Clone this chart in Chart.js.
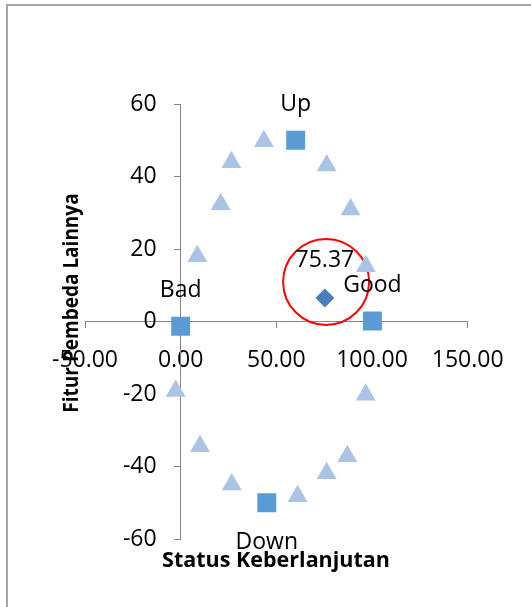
<!DOCTYPE html>
<html>
<head>
<meta charset="utf-8">
<script src="https://cdn.jsdelivr.net/npm/chart.js@4/dist/chart.umd.min.js"></script>
<style>
  html, body { margin: 0; padding: 0; background: #fff; overflow: hidden; }
  #frame { position: absolute; left: 6px; top: 4px; width: 700px; height: 800px; border: 2px solid #a6a6a6; }
  #wrap { position: absolute; left: 0; top: 0; width: 531px; height: 607px; }
</style>
</head>
<body>
<div id="frame"></div>
<div id="wrap"><canvas id="chart" width="531" height="607"></canvas></div>
<script>
// reference points (squares)
const refLabels = ['Up', 'Bad', 'Good', 'Down']
const refX = [60.1, 0, 100.2, 45]
const refY = [50.1, -1.2, 0.2, -49.9]

// anchor points (triangles)
const anchorX = [43.5, 26.5, 20.9, 8.7, 76.3, 88.8, 96.8, -2.6, 10.1, 26.7, 61.1, 76.3, 87.1, 96.7]
const anchorY = [49.8, 44.0, 32.4, 18.1, 43.1, 31.0, 15.3, -19.1, -34.3, -44.9, -48.1, -41.8, -37.1, -20.1]

// the result point
const statusX = 75.37
const statusY = 6.6
const statusLabel = '75.37'

// highlight circle around the result
const circleX = 76
const circleY = 11

const xTicks = [-50, 0, 50, 100, 150]
const yTicks = [-60, -40, -20, 0, 20, 40, 60]

const FONT = "'Open Sans', 'Noto Sans', sans-serif"
const TEXT_SIZE = 23

const toPoints = (xs, ys) => xs.map((x, i) => ({ x: x, y: ys[i] }))

const labelPlugin = {
  id: 'labelPlugin',
  afterDatasetsDraw(chart) {
    const ctx = chart.ctx
    const sx = chart.scales.x
    const sy = chart.scales.y
    ctx.save()
    ctx.fillStyle = '#000'
    ctx.textAlign = 'center'
    ctx.textBaseline = 'middle'
    ctx.font = TEXT_SIZE + 'px ' + FONT
    refLabels.forEach((lab, i) => {
      const px = sx.getPixelForValue(refX[i])
      const py = sy.getPixelForValue(refY[i])
      const off = lab === 'Down' ? 40 : -36
      ctx.fillText(lab, px, py + off)
    })
    ctx.fillText(statusLabel, sx.getPixelForValue(statusX), sy.getPixelForValue(statusY) - 37)

    // axis titles
    ctx.font = 'bold 21.5px ' + FONT
    ctx.fillText('Status Keberlanjutan', 276, 561)
    ctx.font = 'bold 19px ' + FONT
    ctx.translate(72, 303)
    ctx.rotate(-Math.PI / 2)
    ctx.scale(1, 1.12)
    ctx.fillText('Fitur Pembeda Lainnya', 0, 0)
    ctx.restore()
  }
}

// axes sit inside the chart area, so they should not take layout space
const noSize = (scale) => {
  if (scale.isHorizontal()) scale.height = 0
  else scale.width = 0
}

// a y axis placed at x=0 draws its labels right on the line; push them left
const shiftYLabels = (scale) => {
  if (scale._shifted) return
  const orig = scale._computeLabelItems.bind(scale)
  scale._computeLabelItems = (area) => orig(area).map(item => {
    item.options.translation[0] -= 24
    return item
  })
  scale._shifted = true
}

new Chart(document.getElementById('chart'), {
  type: 'scatter',
  data: {
    datasets: [
      {
        label: 'anchor',
        data: toPoints(anchorX, anchorY),
        pointStyle: 'triangle',
        pointRadius: 11.5,
        backgroundColor: '#abc4e6',
        borderWidth: 0
      },
      {
        label: 'reference',
        data: toPoints(refX, refY),
        pointStyle: 'rect',
        pointRadius: 13.4,
        backgroundColor: '#5b9bd5',
        borderWidth: 0
      },
      {
        label: 'status',
        data: [{ x: statusX, y: statusY }],
        pointStyle: 'rectRot',
        pointRadius: 9.5,
        backgroundColor: '#4a7ebb',
        borderWidth: 0
      },
      {
        label: 'highlight',
        data: [{ x: circleX, y: circleY }],
        pointStyle: 'circle',
        pointRadius: 43,
        backgroundColor: 'rgba(0,0,0,0)',
        borderColor: '#ff0000',
        borderWidth: 2
      }
    ]
  },
  options: {
    responsive: false,
    animation: false,
    layout: { padding: { left: 85, right: 63.3, top: 104.3, bottom: 67.7 } },
    plugins: {
      legend: { display: false },
      tooltip: { enabled: false }
    },
    scales: {
      x: {
        type: 'linear',
        min: xTicks[0],
        max: xTicks[xTicks.length - 1],
        position: { y: 0 },
        afterFit: noSize,
        afterBuildTicks: (s) => { s.ticks = xTicks.map(v => ({ value: v })) },
        ticks: {
          color: '#000',
          font: { family: FONT, size: TEXT_SIZE },
          padding: 19,
          maxRotation: 0,
          autoSkip: false,
          callback: (v) => Number(v).toFixed(2)
        },
        grid: { drawOnChartArea: false, drawTicks: true, tickLength: 6, color: '#868686' },
        border: { display: true, color: '#868686', width: 1 }
      },
      y: {
        type: 'linear',
        min: yTicks[0],
        max: yTicks[yTicks.length - 1],
        position: { x: 0 },
        afterFit: noSize,
        afterUpdate: shiftYLabels,
        afterBuildTicks: (s) => { s.ticks = yTicks.map(v => ({ value: v })) },
        ticks: {
          color: '#000',
          font: { family: FONT, size: TEXT_SIZE },
          autoSkip: false
        },
        grid: { drawOnChartArea: false, drawTicks: true, tickLength: 6, color: '#868686' },
        border: { display: true, color: '#868686', width: 1 }
      }
    }
  },
  plugins: [labelPlugin]
})
</script>
</body>
</html>
